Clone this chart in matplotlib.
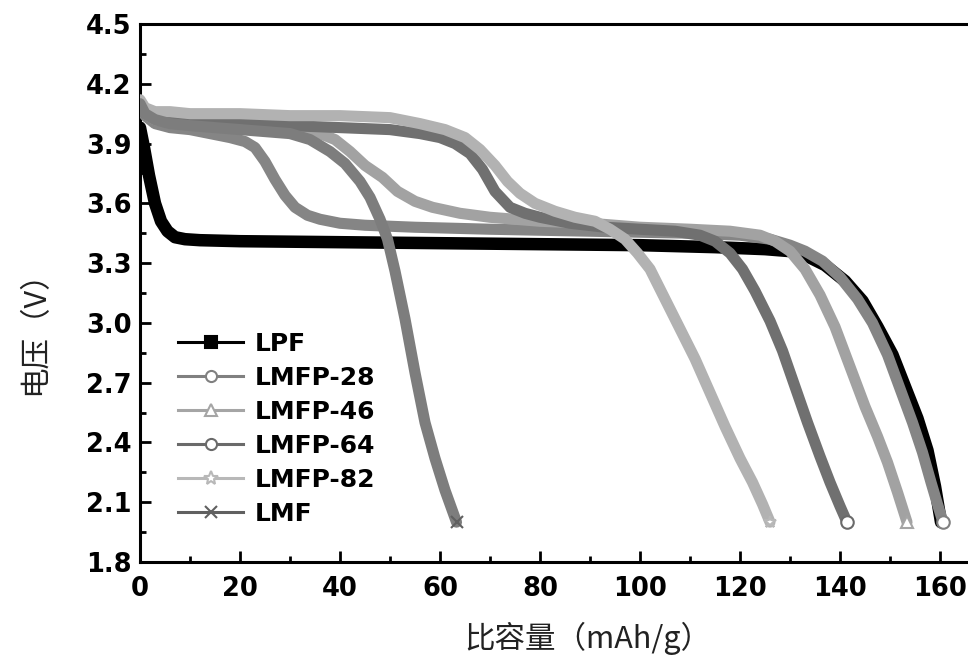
# Discharge curves: LPF, LMFP-xx and LMF cathodes (voltage vs specific capacity)

import matplotlib
matplotlib.use("Agg")
import matplotlib.pyplot as plt
from matplotlib.lines import Line2D
from matplotlib.ticker import MultipleLocator

# ---- data ----
labels = ["LPF", "LMFP-28", "LMFP-46", "LMFP-64", "LMFP-82", "LMF"]

lpf_x = [0, 0.8, 1.8, 3.0, 4.2, 5.5, 7.0, 9.0, 12, 20, 40, 60, 80, 100, 115, 125,
         130, 133, 137, 141, 144.5, 147.5, 150.5, 153, 155.5, 157.5, 159, 160.2]
lpf_y = [3.98, 3.88, 3.74, 3.60, 3.51, 3.46, 3.43, 3.42, 3.415, 3.41, 3.405, 3.40,
         3.395, 3.39, 3.38, 3.37, 3.36, 3.34, 3.29, 3.21, 3.11, 2.98, 2.84, 2.68,
         2.52, 2.36, 2.18, 2.0]

lmfp28_x = [0, 1, 3, 6, 10, 14, 18, 21, 23, 25, 27, 29, 31, 33.5, 36, 40, 45, 55,
            70, 90, 110, 120, 126, 130, 133, 136.5, 140, 143.5, 146.5, 149.5, 152,
            154.5, 156.5, 158.2, 159.5, 160.6]
lmfp28_y = [4.10, 4.04, 4.00, 3.98, 3.97, 3.95, 3.93, 3.91, 3.88, 3.81, 3.72, 3.64,
            3.58, 3.54, 3.52, 3.50, 3.49, 3.48, 3.47, 3.46, 3.45, 3.44, 3.42, 3.39,
            3.36, 3.31, 3.23, 3.12, 3.00, 2.84, 2.67, 2.50, 2.35, 2.20, 2.09, 2.0]

lmfp46_x = [0, 1, 3, 6, 10, 20, 28, 32, 36, 39, 42, 45, 48.5, 51.5, 55, 58.5, 64,
            70, 80, 90, 100, 110, 118, 124, 127, 130, 133, 136, 139, 142, 145,
            147.5, 149.5, 151.5, 153.4]
lmfp46_y = [4.10, 4.05, 4.02, 4.01, 4.00, 3.99, 3.98, 3.97, 3.95, 3.92, 3.86, 3.79,
            3.73, 3.66, 3.61, 3.58, 3.55, 3.53, 3.51, 3.50, 3.48, 3.47, 3.46, 3.44,
            3.41, 3.36, 3.27, 3.14, 2.98, 2.78, 2.58, 2.43, 2.30, 2.15, 2.0]

lmfp64_x = [0, 1, 3, 6, 10, 20, 30, 40, 50, 56, 60, 63, 66, 68.5, 71, 74, 77, 80,
            86, 93, 100, 107, 112, 115, 118, 120.5, 123, 126, 128.5, 131, 133.5,
            136, 138, 140, 141.4]
lmfp64_y = [4.10, 4.05, 4.03, 4.02, 4.01, 4.00, 3.99, 3.98, 3.97, 3.95, 3.93, 3.90,
            3.85, 3.77, 3.66, 3.58, 3.55, 3.53, 3.50, 3.48, 3.47, 3.46, 3.44, 3.41,
            3.35, 3.27, 3.16, 3.01, 2.86, 2.68, 2.50, 2.33, 2.20, 2.08, 2.0]

lmfp82_x = [0, 1, 3, 6, 10, 20, 30, 40, 50, 56, 61, 65, 68, 71, 73.5, 76, 79, 83,
            87, 91, 94, 97, 99.5, 102, 105, 108, 111, 114, 117, 120, 122.5, 124.5, 126]
lmfp82_y = [4.12, 4.08, 4.06, 4.06, 4.05, 4.05, 4.04, 4.04, 4.03, 4.00, 3.97, 3.93,
            3.87, 3.79, 3.71, 3.65, 3.60, 3.56, 3.53, 3.51, 3.47, 3.42, 3.35, 3.27,
            3.12, 2.97, 2.82, 2.65, 2.48, 2.32, 2.20, 2.09, 2.0]

lmf_x = [0, 1, 3, 6, 10, 15, 20, 25, 30, 34, 38, 41, 44, 46, 48, 49.5, 51, 53, 55,
         57, 59, 61, 63.3]
lmf_y = [4.10, 4.05, 4.02, 4.00, 3.99, 3.98, 3.97, 3.96, 3.95, 3.92, 3.86, 3.80,
         3.71, 3.63, 3.52, 3.42, 3.26, 3.02, 2.75, 2.50, 2.32, 2.16, 2.0]

xs = [lpf_x, lmfp28_x, lmfp46_x, lmfp64_x, lmfp82_x, lmf_x]
ys = [lpf_y, lmfp28_y, lmfp46_y, lmfp64_y, lmfp82_y, lmf_y]

band_colors = ["#000000", "#858585", "#a2a2a2", "#707070", "#b2b2b2", "#7d7d7d"]
leg_colors = ["#000000", "#808080", "#a5a5a5", "#6a6a6a", "#b8b8b8", "#606060"]
markers = ["s", "o", "^", "o", "*", "x"]

TXT = ["DejaVu Sans"]
CJK = ["Noto Sans CJK SC", "DejaVu Sans"]


def main():
    plt.rcParams["font.family"] = TXT
    fig = plt.figure(figsize=(9.68, 6.62), dpi=100)
    ax = fig.add_axes([0.14463, 0.15106, 0.85744, 0.81269])

    for i in range(len(labels)):
        lw = 9 if i == 0 else 8
        ax.plot(xs[i], ys[i], color=band_colors[i], lw=lw,
                solid_joinstyle="round", solid_capstyle="round", zorder=2 + i)
        if i > 0:
            ax.plot(xs[i][-1], ys[i][-1], marker=markers[i], ms=9,
                    mfc="white" if markers[i] != "x" else band_colors[i],
                    mec=leg_colors[i], mew=1.5, ls="none", zorder=10 + i)

    ax.set_xlim(0, 166)
    ax.set_ylim(1.8, 4.5)
    ax.xaxis.set_major_locator(MultipleLocator(20))
    ax.xaxis.set_minor_locator(MultipleLocator(10))
    ax.yaxis.set_major_locator(MultipleLocator(0.3))
    ax.yaxis.set_minor_locator(MultipleLocator(0.15))
    ax.yaxis.set_major_formatter(matplotlib.ticker.FormatStrFormatter("%.1f"))

    for side in ["left", "bottom", "top"]:
        ax.spines[side].set_linewidth(2.2)
    ax.spines["right"].set_visible(False)

    ax.tick_params(which="both", direction="in", top=False, right=False,
                   width=2, labelsize=18.5)
    ax.tick_params(which="major", length=8)
    ax.tick_params(which="minor", length=4)
    ax.tick_params(axis="x", pad=10)
    ax.tick_params(axis="y", pad=6)
    for t in ax.get_xticklabels() + ax.get_yticklabels():
        t.set_fontweight("bold")

    ax.set_xlabel("比容量（mAh/g）", family=CJK, fontsize=22, color="#222222")
    ax.xaxis.set_label_coords(0.54, -0.112)
    ax.set_ylabel("电压（V）", family=CJK, fontsize=22, color="#222222")
    ax.yaxis.set_label_coords(-0.108, 0.44)

    handles = []
    for i in range(len(labels)):
        filled = markers[i] in ("s", "x")
        handles.append(Line2D([], [], color=leg_colors[i], lw=2.2,
                              marker=markers[i], ms=8 if markers[i] != "*" else 10,
                              mfc=leg_colors[i] if filled else "white",
                              mec=leg_colors[i], mew=1.5))
    ax.legend(handles, labels, loc="upper left",
              bbox_to_anchor=(178 / 968, 1 - 332 / 662),
              bbox_transform=fig.transFigure, frameon=False, borderpad=0,
              borderaxespad=0, handlelength=2.6, handletextpad=0.48,
              labelspacing=0.4, prop={"family": TXT, "weight": "bold", "size": 18})

    fig.savefig("out.png", dpi=100)


if __name__ == "__main__":
    main()
